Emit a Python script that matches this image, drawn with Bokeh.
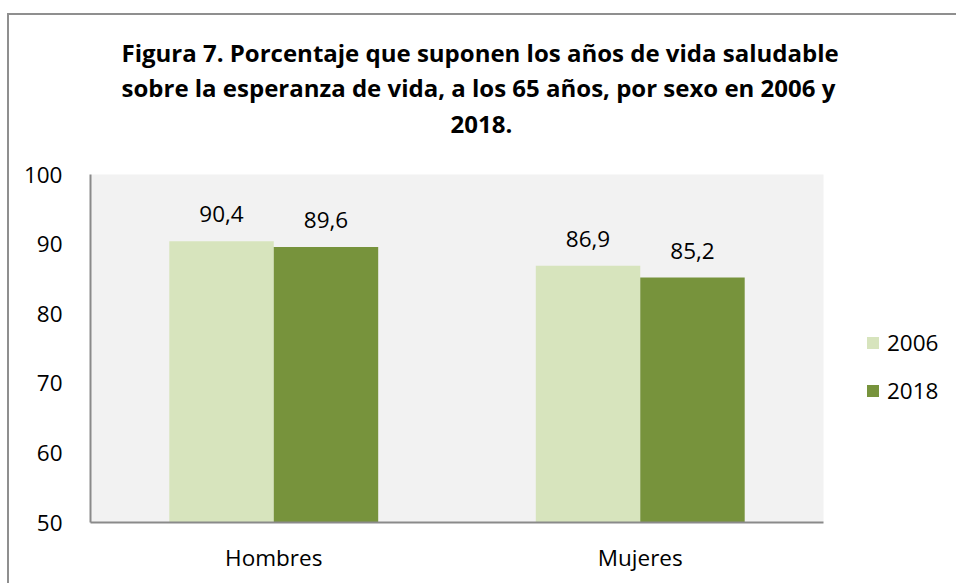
from bokeh.plotting import figure
from bokeh.models import ColumnDataSource, FactorRange, Legend, LegendItem, Title
from bokeh.transform import dodge
from bokeh.core.properties import value
from bokeh.embed import file_html
from bokeh.resources import INLINE

# ---- data ----
categories = ["Hombres", "Mujeres"]
series_names = ["2006", "2018"]
values_2006 = [90.4, 86.9]
values_2018 = [89.6, 85.2]
y_ticks = [50, 60, 70, 80, 90, 100]
title_lines = [
    "Figura 7. Porcentaje que suponen los años de vida saludable",
    "sobre la esperanza de vida, a los 65 años, por sexo en 2006 y",
    "2018.",
]

# ---- style ----
FONT = "Open Sans"
FS = "22.5px"
C2006 = "#d7e4bd"
C2018 = "#77933c"
AXIS_C = "#8a8a8a"
Y0, Y1 = 50, 100


def fmt(v):
    return f"{v:.1f}".replace(".", ",")


src = ColumnDataSource(dict(
    cat=categories,
    v2006=values_2006,
    v2018=values_2018,
    l2006=[fmt(v) for v in values_2006],
    l2018=[fmt(v) for v in values_2018],
))

p = figure(
    x_range=FactorRange(factors=categories, range_padding=0),
    y_range=(Y0, Y1),
    frame_width=733, frame_height=348,
    min_border_left=81, min_border_right=133,
    min_border_top=159, min_border_bottom=61,
    output_backend="svg", toolbar_location=None,
    background_fill_color="#f2f2f2", border_fill_color="white",
    outline_line_color=None,
)
p.styles = {
    "border-top": "2px solid #8f8f8f",
    "border-left": "2px solid #8f8f8f",
    "margin-top": "13px",
    "margin-left": "7px",
}

W = 0.285
r1 = p.vbar(x=dodge("cat", -W / 2, range=p.x_range), top="v2006", bottom=Y0,
            width=W, fill_color=C2006, line_color=None, source=src)
r2 = p.vbar(x=dodge("cat", W / 2, range=p.x_range), top="v2018", bottom=Y0,
            width=W, fill_color=C2018, line_color=None, source=src)

for col, off in (("2006", -W / 2), ("2018", W / 2)):
    p.text(x=dodge("cat", off, range=p.x_range), y="v" + col, text="l" + col,
           text_align="center", text_baseline="alphabetic", y_offset=-27,
           text_font=value(FONT), text_font_size=FS, text_color="black",
           source=src)

legend = Legend(
    items=[LegendItem(label=series_names[0], renderers=[r1]),
           LegendItem(label=series_names[1], renderers=[r2])],
    location=(42, 116), orientation="vertical",
    glyph_width=15, glyph_height=15, label_standoff=7,
    label_text_font=FONT, label_text_font_size=FS, label_text_color="black",
    spacing=17, padding=0, margin=0,
    border_line_color=None, background_fill_alpha=0,
)
p.add_layout(legend, "right")

# spacer between the title block and the plot area
p.add_layout(Title(text=" ", text_font_size="1px", standoff=28.5), "above")

# title lines, closest to the plot first; left-aligned with offsets so that
# every line is centred on the chart area
title_offsets = [31, 31, 360]
title_standoffs = [0, 0, 20]
for line, off, so in zip(reversed(title_lines), reversed(title_offsets),
                         reversed(title_standoffs)):
    t = Title(text=line, align="left", offset=off,
              text_font=FONT, text_font_size="24px",
              text_font_style="bold", text_color="black", standoff=so)
    p.add_layout(t, "above")

for ax in (p.xaxis, p.yaxis):
    ax.axis_line_color = AXIS_C
    ax.axis_line_width = 2
    ax.major_tick_in = 0
    ax.major_tick_out = 0
    ax.minor_tick_in = 0
    ax.minor_tick_out = 0
    ax.major_label_text_font = FONT
    ax.major_label_text_font_size = FS
    ax.major_label_text_color = "black"
p.yaxis.ticker = y_ticks
p.yaxis.major_label_standoff = 28
p.xaxis.major_label_standoff = 19
p.xgrid.visible = False
p.ygrid.visible = False

open("out.html", "w").write(file_html(p, INLINE))
